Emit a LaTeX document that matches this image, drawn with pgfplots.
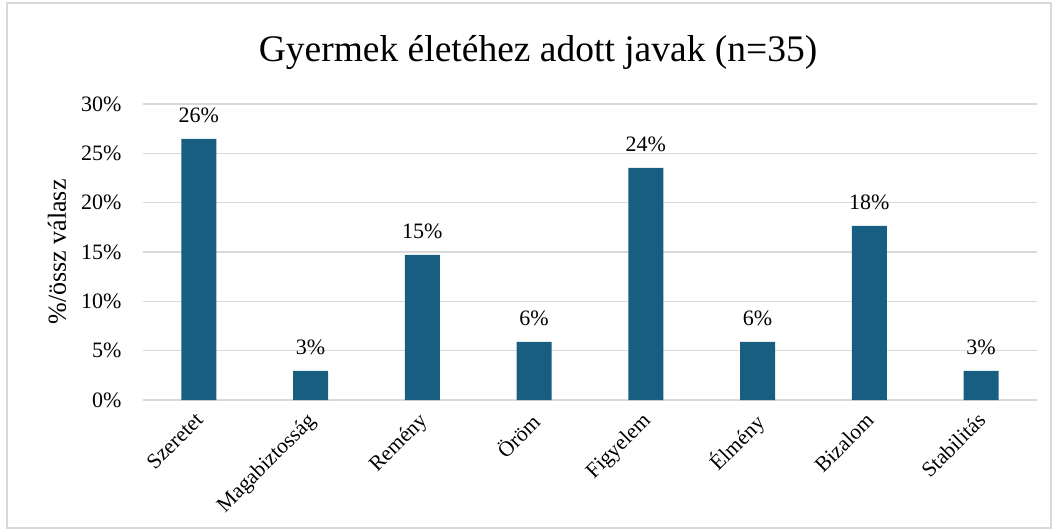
\documentclass[border=0pt]{standalone}
\usepackage{pgfplots}
\pgfplotsset{compat=1.18}
\usepackage{fontspec}
\setmainfont{Liberation Serif}
\definecolor{barc}{RGB}{23,94,128}
\definecolor{gridc}{RGB}{217,217,217}
\begin{document}
\begin{tikzpicture}[x=1pt,y=1pt]
\useasboundingbox (0,0) rectangle (1058,531);
\draw[gridc, line width=1.5pt] (7,3) rectangle (1051,528);
\node[font=\fontsize{37.5}{42}\selectfont] at (538,478) {Gyermek életéhez adott javak (n=35)};
\begin{axis}[
  at={(143pt,131pt)}, anchor=south west,
  scale only axis, width=894pt, height=296pt,
  xmin=-0.5, xmax=7.5, ymin=0, ymax=30,
  ybar, bar width=35pt,
  axis line style={draw=none},
  ytick={0,5,...,30},
  yticklabel={\pgfmathprintnumber{\tick}\%},
  yticklabel style={font=\fontsize{22}{25}\selectfont, xshift=-18pt},
  /pgf/number format/assume math mode=true,
  ymajorgrids, grid style={gridc, line width=1.5pt},
  major tick length=0pt,
  xtick=data,
  xticklabels={Szeretet,Magabiztosság,Remény,Öröm,Figyelem,Élmény,Bizalom,Stabilitás},
  xticklabel style={font=\fontsize{21.5}{24}\selectfont, rotate=45, anchor=north east, inner sep=0pt, xshift=-11.3pt, yshift=-4.3pt},
  ylabel={\%/össz válasz},
  every axis y label/.style={at={(-86pt,148pt)}, anchor=center, rotate=90, font=\fontsize{26}{30}\selectfont},
  nodes near coords={\pgfmathprintnumber[fixed,precision=0]{\pgfplotspointmeta}\%},
  every node near coord/.append style={font=\fontsize{22}{25}\selectfont, black, yshift=13pt},
  clip=false,
]
\draw[gridc, line width=1.5pt] (axis cs:-0.5,0) -- (axis cs:7.5,0);
\addplot[fill=barc, draw=none] coordinates {
(0,26.47) (1,2.94) (2,14.71) (3,5.88) (4,23.53) (5,5.88) (6,17.65) (7,2.94)};
\end{axis}
\end{tikzpicture}
\end{document}
